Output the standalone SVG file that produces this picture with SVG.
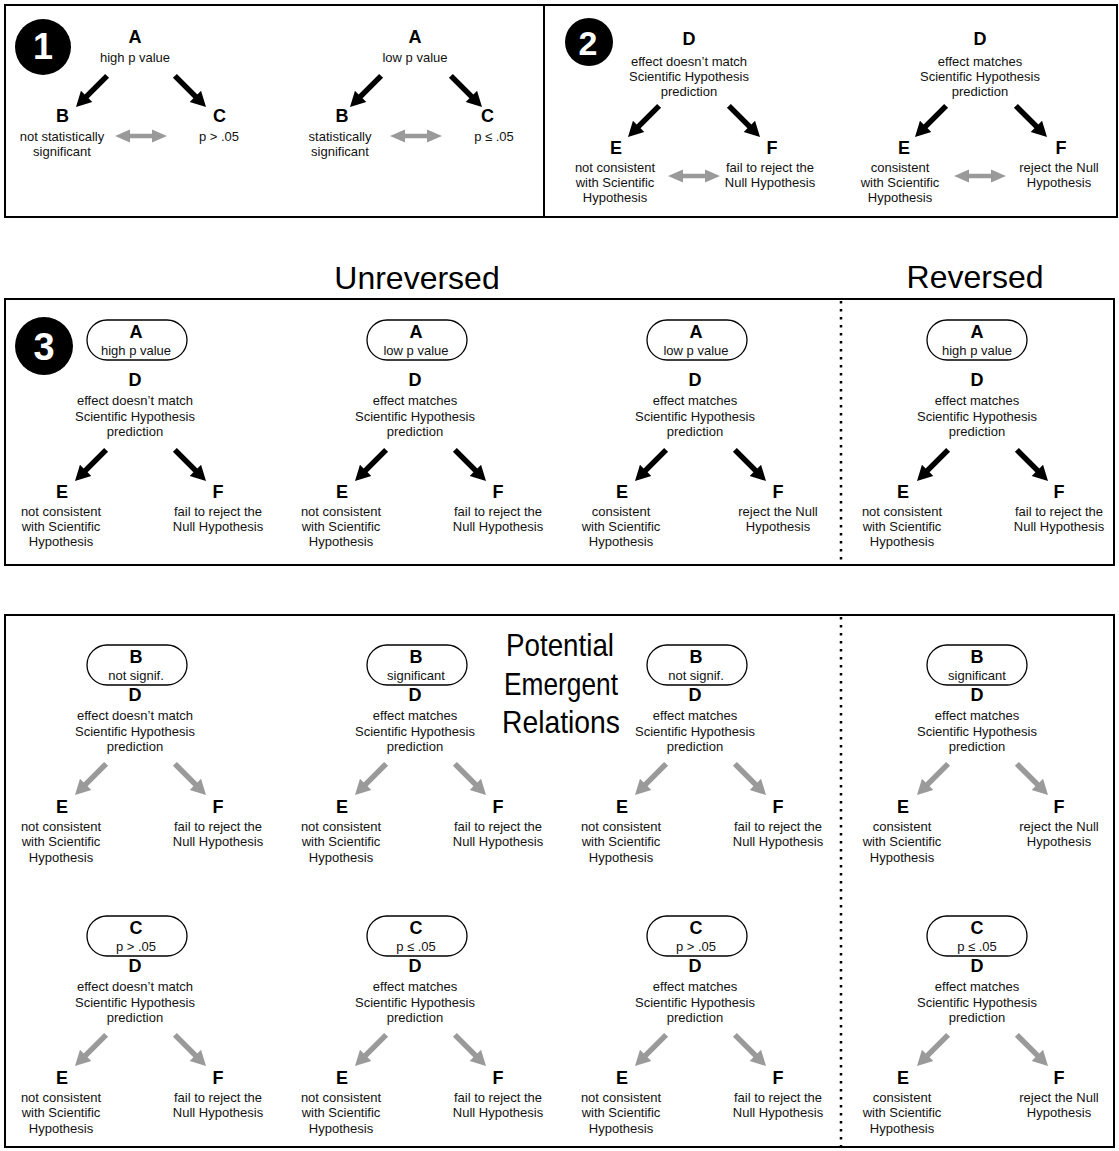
<svg xmlns="http://www.w3.org/2000/svg" xmlns:xlink="http://www.w3.org/1999/xlink" width="1119" height="1151" viewBox="0 0 1119 1151">
<style>
.L{font-family:"Liberation Sans",Arial,sans-serif;font-weight:bold;font-size:18px;text-anchor:middle;fill:#000}
.t{font-family:"Liberation Sans",Arial,sans-serif;font-size:13px;text-anchor:middle;fill:#111}
.num{font-family:"Liberation Sans",Arial,sans-serif;font-weight:bold;text-anchor:middle;fill:#fff}
.title{font-family:"Liberation Sans",Arial,sans-serif;font-size:32px;text-anchor:middle;fill:#000}
.frame{fill:none;stroke:#000;stroke-width:2}
.dot{stroke:#000;stroke-width:2.5;stroke-dasharray:2.5 5.5}
.pill{fill:#fff;stroke:#000;stroke-width:1.3}
.blk{fill:#000}
.gry{fill:#9a9a9a}
</style>
<defs>
<path id="arr" d="M-44,-2.8 L-15,-2.8 L-15,-8 L0,0 L-15,8 L-15,2.8 L-44,2.8 Z"/>
<path id="darr" d="M-26,0 L-11,-6.5 L-11,-2.2 L11,-2.2 L11,-6.5 L26,0 L11,6.5 L11,2.2 L-11,2.2 L-11,6.5 Z"/>
</defs>
<rect width="1119" height="1151" fill="#fff"/>

<g id="frames">
<rect class="frame" x="5" y="5" width="1112" height="212"/>
<line x1="544" y1="5" x2="544" y2="217" stroke="#000" stroke-width="2"/>
<rect class="frame" x="5" y="299" width="1109" height="266"/>
<rect class="frame" x="5" y="615" width="1109" height="532"/>
<line class="dot" x1="841" y1="301" x2="841" y2="564"/>
<line class="dot" x1="841" y1="617" x2="841" y2="1146"/>
</g>

<g id="badges">
<circle cx="43" cy="47" r="28" fill="#000"/><text class="num" x="43" y="59" font-size="36">1</text>
<circle cx="589" cy="42" r="24" fill="#000"/><text class="num" x="588" y="55" font-size="34">2</text>
<circle cx="44" cy="346" r="29" fill="#000"/><text class="num" x="44" y="360" font-size="38">3</text>
</g>

<g id="titles">
<text class="title" x="417" y="289">Unreversed</text>
<text class="title" x="975" y="288">Reversed</text>
</g>

<g id="connectors">
<!-- panel 1 -->
<use xlink:href="#arr" class="blk" transform="translate(76,107) rotate(135)"/>
<use xlink:href="#arr" class="blk" transform="translate(206,107) rotate(45)"/>
<use xlink:href="#darr" class="gry" transform="translate(141,136)"/>
<use xlink:href="#arr" class="blk" transform="translate(350,107) rotate(135)"/>
<use xlink:href="#arr" class="blk" transform="translate(482,107) rotate(45)"/>
<use xlink:href="#darr" class="gry" transform="translate(416,136)"/>
<!-- panel 2 -->
<use xlink:href="#arr" class="blk" transform="translate(628,137) rotate(135)"/>
<use xlink:href="#arr" class="blk" transform="translate(760,137) rotate(45)"/>
<use xlink:href="#darr" class="gry" transform="translate(694,176)"/>
<use xlink:href="#arr" class="blk" transform="translate(915,137) rotate(135)"/>
<use xlink:href="#arr" class="blk" transform="translate(1047,137) rotate(45)"/>
<use xlink:href="#darr" class="gry" transform="translate(980,176)"/>
<!-- panel 3 -->
<use xlink:href="#arr" class="blk" transform="translate(75,481) rotate(135)"/>
<use xlink:href="#arr" class="blk" transform="translate(206,481) rotate(45)"/>
<use xlink:href="#arr" class="blk" transform="translate(355,481) rotate(135)"/>
<use xlink:href="#arr" class="blk" transform="translate(486,481) rotate(45)"/>
<use xlink:href="#arr" class="blk" transform="translate(635,481) rotate(135)"/>
<use xlink:href="#arr" class="blk" transform="translate(766,481) rotate(45)"/>
<use xlink:href="#arr" class="blk" transform="translate(917,481) rotate(135)"/>
<use xlink:href="#arr" class="blk" transform="translate(1048,481) rotate(45)"/>
<!-- panel 4 row 1 -->
<use xlink:href="#arr" class="gry" transform="translate(75,795) rotate(135)"/>
<use xlink:href="#arr" class="gry" transform="translate(206,795) rotate(45)"/>
<use xlink:href="#arr" class="gry" transform="translate(355,795) rotate(135)"/>
<use xlink:href="#arr" class="gry" transform="translate(486,795) rotate(45)"/>
<use xlink:href="#arr" class="gry" transform="translate(635,795) rotate(135)"/>
<use xlink:href="#arr" class="gry" transform="translate(766,795) rotate(45)"/>
<use xlink:href="#arr" class="gry" transform="translate(917,795) rotate(135)"/>
<use xlink:href="#arr" class="gry" transform="translate(1048,795) rotate(45)"/>
<!-- panel 4 row 2 -->
<use xlink:href="#arr" class="gry" transform="translate(75,1066) rotate(135)"/>
<use xlink:href="#arr" class="gry" transform="translate(206,1066) rotate(45)"/>
<use xlink:href="#arr" class="gry" transform="translate(355,1066) rotate(135)"/>
<use xlink:href="#arr" class="gry" transform="translate(486,1066) rotate(45)"/>
<use xlink:href="#arr" class="gry" transform="translate(635,1066) rotate(135)"/>
<use xlink:href="#arr" class="gry" transform="translate(766,1066) rotate(45)"/>
<use xlink:href="#arr" class="gry" transform="translate(917,1066) rotate(135)"/>
<use xlink:href="#arr" class="gry" transform="translate(1048,1066) rotate(45)"/>
</g>

<!-- Panel 1 -->
<g id="p1-A1"><text class="L" x="135" y="43">A</text><text class="t" x="135" y="62">high p value</text></g>
<g id="p1-B1"><text class="L" x="62.5" y="122">B</text><text class="t" x="62" y="141">not statistically</text><text class="t" x="62" y="156">significant</text></g>
<g id="p1-C1"><text class="L" x="219.5" y="122">C</text><text class="t" x="219" y="141">p &gt; .05</text></g>
<g id="p1-A2"><text class="L" x="415" y="43">A</text><text class="t" x="415" y="62">low p value</text></g>
<g id="p1-B2"><text class="L" x="342" y="122">B</text><text class="t" x="340" y="141">statistically</text><text class="t" x="340" y="156">significant</text></g>
<g id="p1-C2"><text class="L" x="487.5" y="122">C</text><text class="t" x="494" y="141">p ≤ .05</text></g>

<!-- Panel 2 -->
<g id="p2-D1"><text class="L" x="689" y="45">D</text><text class="t" x="689" y="66">effect doesn’t match</text><text class="t" x="689" y="81">Scientific Hypothesis</text><text class="t" x="689" y="96">prediction</text></g>
<g id="p2-E1"><text class="L" x="616" y="154">E</text><text class="t" x="615" y="172">not consistent</text><text class="t" x="615" y="187">with Scientific</text><text class="t" x="615" y="202">Hypothesis</text></g>
<g id="p2-F1"><text class="L" x="772" y="154">F</text><text class="t" x="770" y="172">fail to reject the</text><text class="t" x="770" y="187">Null Hypothesis</text></g>
<g id="p2-D2"><text class="L" x="980" y="45">D</text><text class="t" x="980" y="66">effect matches</text><text class="t" x="980" y="81">Scientific Hypothesis</text><text class="t" x="980" y="96">prediction</text></g>
<g id="p2-E2"><text class="L" x="904" y="154">E</text><text class="t" x="900" y="172">consistent</text><text class="t" x="900" y="187">with Scientific</text><text class="t" x="900" y="202">Hypothesis</text></g>
<g id="p2-F2"><text class="L" x="1061" y="154">F</text><text class="t" x="1059" y="172">reject the Null</text><text class="t" x="1059" y="187">Hypothesis</text></g>

<!-- Panel 3 -->
<g id="p3-A1"><rect class="pill" x="87" y="320" width="100" height="40" rx="20"/><text class="L" x="136" y="338">A</text><text class="t" x="136" y="355">high p value</text></g>
<g id="p3-D1"><text class="L" x="135" y="386">D</text><text class="t" x="135" y="405">effect doesn’t match</text><text class="t" x="135" y="420.5">Scientific Hypothesis</text><text class="t" x="135" y="436">prediction</text></g>
<g id="p3-E1"><text class="L" x="62" y="498">E</text><text class="t" x="61" y="516">not consistent</text><text class="t" x="61" y="531">with Scientific</text><text class="t" x="61" y="546">Hypothesis</text></g>
<g id="p3-F1"><text class="L" x="218" y="498">F</text><text class="t" x="218" y="516">fail to reject the</text><text class="t" x="218" y="531">Null Hypothesis</text></g>

<g id="p3-A2"><rect class="pill" x="367" y="320" width="100" height="40" rx="20"/><text class="L" x="416" y="338">A</text><text class="t" x="416" y="355">low p value</text></g>
<g id="p3-D2"><text class="L" x="415" y="386">D</text><text class="t" x="415" y="405">effect matches</text><text class="t" x="415" y="420.5">Scientific Hypothesis</text><text class="t" x="415" y="436">prediction</text></g>
<g id="p3-E2"><text class="L" x="342" y="498">E</text><text class="t" x="341" y="516">not consistent</text><text class="t" x="341" y="531">with Scientific</text><text class="t" x="341" y="546">Hypothesis</text></g>
<g id="p3-F2"><text class="L" x="498" y="498">F</text><text class="t" x="498" y="516">fail to reject the</text><text class="t" x="498" y="531">Null Hypothesis</text></g>

<g id="p3-A3"><rect class="pill" x="647" y="320" width="100" height="40" rx="20"/><text class="L" x="696" y="338">A</text><text class="t" x="696" y="355">low p value</text></g>
<g id="p3-D3"><text class="L" x="695" y="386">D</text><text class="t" x="695" y="405">effect matches</text><text class="t" x="695" y="420.5">Scientific Hypothesis</text><text class="t" x="695" y="436">prediction</text></g>
<g id="p3-E3"><text class="L" x="622" y="498">E</text><text class="t" x="621" y="516">consistent</text><text class="t" x="621" y="531">with Scientific</text><text class="t" x="621" y="546">Hypothesis</text></g>
<g id="p3-F3"><text class="L" x="778" y="498">F</text><text class="t" x="778" y="516">reject the Null</text><text class="t" x="778" y="531">Hypothesis</text></g>

<g id="p3-A4"><rect class="pill" x="927" y="320" width="100" height="40" rx="20"/><text class="L" x="977" y="338">A</text><text class="t" x="977" y="355">high p value</text></g>
<g id="p3-D4"><text class="L" x="977" y="386">D</text><text class="t" x="977" y="405">effect matches</text><text class="t" x="977" y="420.5">Scientific Hypothesis</text><text class="t" x="977" y="436">prediction</text></g>
<g id="p3-E4"><text class="L" x="903" y="498">E</text><text class="t" x="902" y="516">not consistent</text><text class="t" x="902" y="531">with Scientific</text><text class="t" x="902" y="546">Hypothesis</text></g>
<g id="p3-F4"><text class="L" x="1059" y="498">F</text><text class="t" x="1059" y="516">fail to reject the</text><text class="t" x="1059" y="531">Null Hypothesis</text></g>

<!-- Panel 4 label -->
<g id="p4-title">
<text class="title" x="560" y="656" font-size="34" textLength="108" lengthAdjust="spacingAndGlyphs">Potential</text>
<text class="title" x="561" y="695" font-size="34" textLength="114" lengthAdjust="spacingAndGlyphs">Emergent</text>
<text class="title" x="561" y="733" font-size="34" textLength="118" lengthAdjust="spacingAndGlyphs">Relations</text>
</g>

<!-- Panel 4 row 1 -->
<g id="p4-B1"><rect class="pill" x="87" y="645" width="100" height="40" rx="20"/><text class="L" x="136" y="663">B</text><text class="t" x="136" y="680">not signif.</text></g>
<g id="p4-D1"><text class="L" x="135" y="701">D</text><text class="t" x="135" y="720">effect doesn’t match</text><text class="t" x="135" y="735.5">Scientific Hypothesis</text><text class="t" x="135" y="751">prediction</text></g>
<g id="p4-E1"><text class="L" x="62" y="813">E</text><text class="t" x="61" y="831">not consistent</text><text class="t" x="61" y="846">with Scientific</text><text class="t" x="61" y="861.5">Hypothesis</text></g>
<g id="p4-F1"><text class="L" x="218" y="813">F</text><text class="t" x="218" y="831">fail to reject the</text><text class="t" x="218" y="846">Null Hypothesis</text></g>

<g id="p4-B2"><rect class="pill" x="367" y="645" width="100" height="40" rx="20"/><text class="L" x="416" y="663">B</text><text class="t" x="416" y="680">significant</text></g>
<g id="p4-D2"><text class="L" x="415" y="701">D</text><text class="t" x="415" y="720">effect matches</text><text class="t" x="415" y="735.5">Scientific Hypothesis</text><text class="t" x="415" y="751">prediction</text></g>
<g id="p4-E2"><text class="L" x="342" y="813">E</text><text class="t" x="341" y="831">not consistent</text><text class="t" x="341" y="846">with Scientific</text><text class="t" x="341" y="861.5">Hypothesis</text></g>
<g id="p4-F2"><text class="L" x="498" y="813">F</text><text class="t" x="498" y="831">fail to reject the</text><text class="t" x="498" y="846">Null Hypothesis</text></g>

<g id="p4-B3"><rect class="pill" x="647" y="645" width="100" height="40" rx="20"/><text class="L" x="696" y="663">B</text><text class="t" x="696" y="680">not signif.</text></g>
<g id="p4-D3"><text class="L" x="695" y="701">D</text><text class="t" x="695" y="720">effect matches</text><text class="t" x="695" y="735.5">Scientific Hypothesis</text><text class="t" x="695" y="751">prediction</text></g>
<g id="p4-E3"><text class="L" x="622" y="813">E</text><text class="t" x="621" y="831">not consistent</text><text class="t" x="621" y="846">with Scientific</text><text class="t" x="621" y="861.5">Hypothesis</text></g>
<g id="p4-F3"><text class="L" x="778" y="813">F</text><text class="t" x="778" y="831">fail to reject the</text><text class="t" x="778" y="846">Null Hypothesis</text></g>

<g id="p4-B4"><rect class="pill" x="927" y="645" width="100" height="40" rx="20"/><text class="L" x="977" y="663">B</text><text class="t" x="977" y="680">significant</text></g>
<g id="p4-D4"><text class="L" x="977" y="701">D</text><text class="t" x="977" y="720">effect matches</text><text class="t" x="977" y="735.5">Scientific Hypothesis</text><text class="t" x="977" y="751">prediction</text></g>
<g id="p4-E4"><text class="L" x="903" y="813">E</text><text class="t" x="902" y="831">consistent</text><text class="t" x="902" y="846">with Scientific</text><text class="t" x="902" y="861.5">Hypothesis</text></g>
<g id="p4-F4"><text class="L" x="1059" y="813">F</text><text class="t" x="1059" y="831">reject the Null</text><text class="t" x="1059" y="846">Hypothesis</text></g>

<!-- Panel 4 row 2 -->
<g id="p4-C1"><rect class="pill" x="87" y="916" width="100" height="40" rx="20"/><text class="L" x="136" y="934">C</text><text class="t" x="136" y="951">p &gt; .05</text></g>
<g id="p4-D5"><text class="L" x="135" y="972">D</text><text class="t" x="135" y="991">effect doesn’t match</text><text class="t" x="135" y="1006.5">Scientific Hypothesis</text><text class="t" x="135" y="1022">prediction</text></g>
<g id="p4-E5"><text class="L" x="62" y="1084">E</text><text class="t" x="61" y="1102">not consistent</text><text class="t" x="61" y="1117">with Scientific</text><text class="t" x="61" y="1132.5">Hypothesis</text></g>
<g id="p4-F5"><text class="L" x="218" y="1084">F</text><text class="t" x="218" y="1102">fail to reject the</text><text class="t" x="218" y="1117">Null Hypothesis</text></g>

<g id="p4-C2"><rect class="pill" x="367" y="916" width="100" height="40" rx="20"/><text class="L" x="416" y="934">C</text><text class="t" x="416" y="951">p ≤ .05</text></g>
<g id="p4-D6"><text class="L" x="415" y="972">D</text><text class="t" x="415" y="991">effect matches</text><text class="t" x="415" y="1006.5">Scientific Hypothesis</text><text class="t" x="415" y="1022">prediction</text></g>
<g id="p4-E6"><text class="L" x="342" y="1084">E</text><text class="t" x="341" y="1102">not consistent</text><text class="t" x="341" y="1117">with Scientific</text><text class="t" x="341" y="1132.5">Hypothesis</text></g>
<g id="p4-F6"><text class="L" x="498" y="1084">F</text><text class="t" x="498" y="1102">fail to reject the</text><text class="t" x="498" y="1117">Null Hypothesis</text></g>

<g id="p4-C3"><rect class="pill" x="647" y="916" width="100" height="40" rx="20"/><text class="L" x="696" y="934">C</text><text class="t" x="696" y="951">p &gt; .05</text></g>
<g id="p4-D7"><text class="L" x="695" y="972">D</text><text class="t" x="695" y="991">effect matches</text><text class="t" x="695" y="1006.5">Scientific Hypothesis</text><text class="t" x="695" y="1022">prediction</text></g>
<g id="p4-E7"><text class="L" x="622" y="1084">E</text><text class="t" x="621" y="1102">not consistent</text><text class="t" x="621" y="1117">with Scientific</text><text class="t" x="621" y="1132.5">Hypothesis</text></g>
<g id="p4-F7"><text class="L" x="778" y="1084">F</text><text class="t" x="778" y="1102">fail to reject the</text><text class="t" x="778" y="1117">Null Hypothesis</text></g>

<g id="p4-C4"><rect class="pill" x="927" y="916" width="100" height="40" rx="20"/><text class="L" x="977" y="934">C</text><text class="t" x="977" y="951">p ≤ .05</text></g>
<g id="p4-D8"><text class="L" x="977" y="972">D</text><text class="t" x="977" y="991">effect matches</text><text class="t" x="977" y="1006.5">Scientific Hypothesis</text><text class="t" x="977" y="1022">prediction</text></g>
<g id="p4-E8"><text class="L" x="903" y="1084">E</text><text class="t" x="902" y="1102">consistent</text><text class="t" x="902" y="1117">with Scientific</text><text class="t" x="902" y="1132.5">Hypothesis</text></g>
<g id="p4-F8"><text class="L" x="1059" y="1084">F</text><text class="t" x="1059" y="1102">reject the Null</text><text class="t" x="1059" y="1117">Hypothesis</text></g>
</svg>
